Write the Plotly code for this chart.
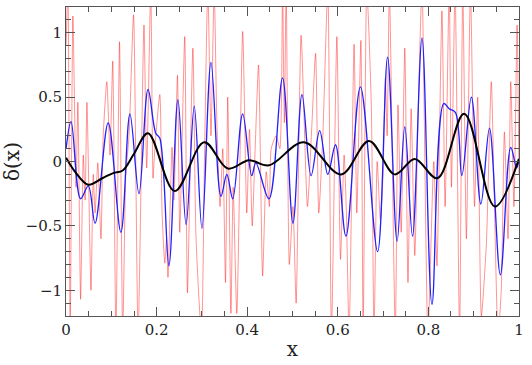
import plotly.graph_objects as go

# smooth (black) curve
black_x = [0.000, 0.020, 0.049, 0.080, 0.104, 0.125, 0.150, 0.181, 0.240, 0.305, 0.357,
           0.404, 0.448, 0.525, 0.607, 0.669, 0.726, 0.770, 0.820, 0.879, 0.947, 1.000]
black_y = [0.03, -0.08, -0.18, -0.13, -0.09, -0.07, 0.06, 0.22, -0.23, 0.15, -0.055,
           0.01, -0.03, 0.15, -0.10, 0.16, -0.10, 0.02, -0.13, 0.37, -0.35, 0.02]

# intermediate (blue) curve
blue_x = [0.000, 0.011, 0.032, 0.049, 0.064, 0.093, 0.121, 0.141, 0.161, 0.181, 0.198,
          0.207, 0.227, 0.247, 0.265, 0.283, 0.300, 0.320, 0.342, 0.355, 0.368, 0.390,
          0.410, 0.419, 0.448, 0.478, 0.501, 0.521, 0.541, 0.560, 0.578, 0.595, 0.618,
          0.650, 0.688, 0.710, 0.731, 0.748, 0.765, 0.786, 0.808, 0.834, 0.846, 0.860,
          0.874, 0.895, 0.916, 0.935, 0.959, 0.982, 0.995, 1.000]
blue_y = [0.10, 0.31, -0.29, -0.19, -0.48, 0.30, -0.55, 0.37, -0.25, 0.56, 0.22,
          0.18, -0.81, 0.48, -0.49, 0.43, -0.52, 0.77, -0.27, -0.10, -0.29, 0.37,
          -0.11, -0.01, -0.29, 0.65, -0.48, 0.52, -0.11, 0.24, -0.10, 0.13, -0.58,
          0.58, -0.70, 0.81, -0.62, 0.27, -0.58, 0.96, -1.11, 0.45, 0.41, 0.38,
          -0.11, 0.50, -0.33, 0.26, -0.88, 0.11, -0.05, 0.02]

# noisy (red) curve
red_x = [0.000, 0.004, 0.009, 0.015, 0.022, 0.026, 0.032, 0.038, 0.042, 0.046, 0.055,
         0.060, 0.064, 0.070, 0.077, 0.082, 0.090, 0.097, 0.103, 0.110, 0.118, 0.125,
         0.132, 0.139, 0.149, 0.159, 0.172, 0.178, 0.187, 0.192, 0.196, 0.207, 0.212,
         0.218, 0.222, 0.225, 0.234, 0.238, 0.246, 0.251, 0.262, 0.268, 0.280, 0.287,
         0.299, 0.306, 0.313, 0.320, 0.327, 0.333, 0.340, 0.346, 0.352, 0.357, 0.364,
         0.369, 0.377, 0.390, 0.399, 0.405, 0.411, 0.418, 0.425, 0.434, 0.442, 0.449,
         0.453, 0.464, 0.472, 0.478, 0.482, 0.486, 0.493, 0.501, 0.508, 0.519, 0.533,
         0.543, 0.551, 0.558, 0.567, 0.578, 0.586, 0.598, 0.606, 0.614, 0.619, 0.625,
         0.636, 0.642, 0.651, 0.656, 0.664, 0.674, 0.680, 0.687, 0.694, 0.700, 0.705,
         0.709, 0.714, 0.727, 0.733, 0.740, 0.748, 0.755, 0.762, 0.770, 0.778, 0.786,
         0.799, 0.812, 0.819, 0.830, 0.837, 0.846, 0.851, 0.859, 0.869, 0.876, 0.884,
         0.893, 0.902, 0.909, 0.917, 0.928, 0.939, 0.946, 0.954, 0.961, 0.968, 0.976,
         0.982, 0.989, 0.996, 1.000]
red_y = [0.90, 1.35, -1.35, 1.13, -0.20, 0.46, -1.07, 0.05, -0.30, 0.46, -1.00,
         -0.10, -0.40, -0.01, -0.60, 0.20, 0.62, 0.05, 0.78, -1.35, 0.93, -1.35,
         -0.10, 0.20, 1.14, -1.35, 1.06, -0.05, 1.35, -0.13, 0.10, 0.52, -0.40,
         -0.79, -0.60, -0.90, 0.11, -0.30, 0.67, -0.55, 0.97, -1.02, 0.88, -0.60,
         -1.35, 0.10, 1.35, 0.20, 1.35, 0.30, -0.35, 0.10, -0.94, 0.50, -1.18,
         -0.20, -1.18, 1.01, -0.40, 0.25, -0.50, 0.15, 0.75, -0.89, -0.08, -0.35,
         0.10, 0.20, 0.10, 1.35, 0.30, 1.35, -0.80, -0.35, -1.10, 0.98, -0.35,
         0.30, 0.84, -0.40, 0.20, 1.35, -1.35, 0.97, -0.76, 0.05, -0.40, -1.35,
         0.91, -0.40, 0.94, -1.35, 1.35, 0.44, -1.35, 0.00, -0.45, -0.10, 0.65,
         0.20, 1.35, -1.35, 0.44, -0.55, 0.88, -0.94, 0.41, -0.73, 0.45, 1.35,
         -1.35, 0.00, -0.81, 1.17, -0.35, 1.35, -0.20, 1.35, -1.35, 1.35, -0.60,
         1.35, -0.35, 0.50, -1.20, -0.65, 0.62, -0.35, -1.35, -1.00, 0.23, -0.60,
         0.62, -0.35, 1.06, -0.10]

x_ticks = [0, 0.2, 0.4, 0.6, 0.8, 1]
y_ticks = [-1, -0.5, 0, 0.5, 1]

fig = go.Figure()
fig.add_trace(go.Scatter(x=red_x, y=red_y, mode="lines",
                         line=dict(color="rgba(255,0,0,0.42)", width=1, shape="spline", smoothing=0.6)))
fig.add_trace(go.Scatter(x=blue_x, y=blue_y, mode="lines",
                         line=dict(color="#1f1fff", width=1.3, shape="spline", smoothing=1)))
fig.add_trace(go.Scatter(x=black_x, y=black_y, mode="lines",
                         line=dict(color="black", width=2, shape="spline", smoothing=1)))

axis_common = dict(
    showline=True, linecolor="#555", linewidth=1, mirror="allticks",
    ticks="inside", ticklen=9, tickcolor="#555", tickwidth=1,
    showgrid=False, zeroline=False,
    tickfont=dict(family="DejaVu Serif", size=15, color="#222"),
)

fig.update_xaxes(range=[-0.0002, 1.0002], tickvals=x_ticks, ticktext=[str(t) for t in x_ticks],
                 minor=dict(tickvals=[i / 20 for i in range(21)], ticks="inside", ticklen=5, tickcolor="#555"),
                 title=dict(text="x", font=dict(family="DejaVu Serif", size=20, color="#222"), standoff=3),
                 **axis_common)
fig.update_yaxes(range=[-1.2, 1.2], tickvals=y_ticks,
                 ticktext=["\u22121", "\u22120.5", "0", "0.5", "1"],
                 minor=dict(dtick=0.1, ticks="inside", ticklen=5, tickcolor="#555"),
                 title=dict(text="\u03b4(x)", font=dict(family="DejaVu Serif", size=20, color="#222"), standoff=2),
                 **axis_common)

fig.update_layout(
    width=532, height=365,
    margin=dict(l=66, r=13, t=7, b=49),
    plot_bgcolor="white", paper_bgcolor="white",
    showlegend=False,
)

fig.write_html("out.html", config={"displayModeBar": False},
               post_script="document.body.style.margin='0';")
